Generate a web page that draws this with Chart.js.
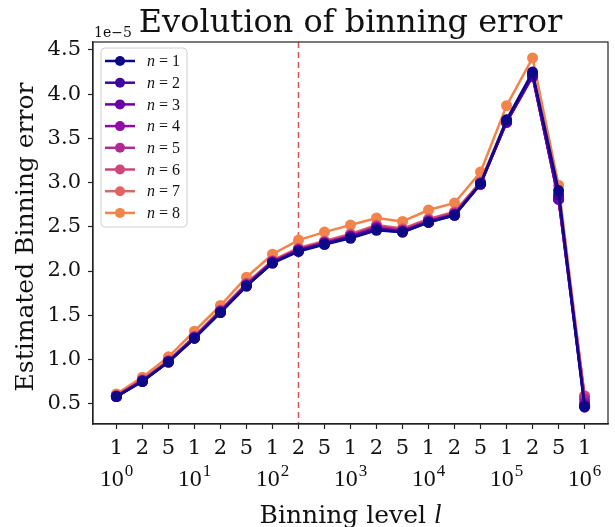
<!DOCTYPE html>
<html lang="en">
<head>
<meta charset="UTF-8">
<title>Evolution of binning error</title>
<script src="https://cdn.jsdelivr.net/npm/chart.js"></script>
<style>
  html, body { margin: 0; padding: 0; background: #fff; }
  #wrap { width: 615px; height: 527px; }
</style>
</head>
<body>
<div id="wrap"><canvas id="chart" width="615" height="527"></canvas></div>
<script>
// binning levels l = 1,2,5,10,20,...,1e6 -> mantissa label per position
const tickMantissa = ['1','2','5','1','2','5','1','2','5','1','2','5','1','2','5','1','2','5','1'];
const decadeTicks = [0, 3, 6, 9, 12, 15, 18];
const decadeExp = ['0', '1', '2', '3', '4', '5', '6'];
const yTicks = [0.5, 1.0, 1.5, 2.0, 2.5, 3.0, 3.5, 4.0, 4.5];
const cutIndex = 7; // dashed line at l = 200

// estimated binning error, in units of 1e-5
const nLabels = ['1', '2', '3', '4', '5', '6', '7', '8'];
const err1 = [0.58, 0.75, 0.97, 1.24, 1.53, 1.83, 2.09, 2.22, 2.30, 2.37, 2.46, 2.44, 2.55, 2.63, 2.99, 3.71, 4.25, 2.91, 0.47];
const err2 = [0.58, 0.75, 0.97, 1.24, 1.53, 1.83, 2.09, 2.23, 2.31, 2.38, 2.47, 2.44, 2.55, 2.63, 2.98, 3.69, 4.22, 2.86, 0.46];
const err3 = [0.58, 0.76, 0.97, 1.24, 1.54, 1.84, 2.10, 2.23, 2.31, 2.39, 2.48, 2.45, 2.56, 2.64, 2.98, 3.68, 4.20, 2.82, 0.48];
const err4 = [0.58, 0.76, 0.98, 1.25, 1.54, 1.84, 2.10, 2.24, 2.32, 2.39, 2.49, 2.45, 2.56, 2.64, 2.99, 3.68, 4.20, 2.81, 0.51];
const err5 = [0.59, 0.76, 0.98, 1.25, 1.55, 1.85, 2.11, 2.24, 2.32, 2.40, 2.50, 2.46, 2.57, 2.65, 2.99, 3.69, 4.21, 2.81, 0.55];
const err6 = [0.59, 0.77, 0.98, 1.26, 1.55, 1.86, 2.11, 2.25, 2.33, 2.41, 2.51, 2.47, 2.58, 2.66, 3.00, 3.70, 4.22, 2.82, 0.58];
const err7 = [0.59, 0.77, 0.99, 1.26, 1.56, 1.86, 2.12, 2.26, 2.34, 2.42, 2.52, 2.48, 2.59, 2.67, 3.01, 3.71, 4.23, 2.84, 0.59];
const err8 = [0.61, 0.80, 1.03, 1.32, 1.61, 1.93, 2.19, 2.35, 2.44, 2.52, 2.60, 2.56, 2.69, 2.77, 3.12, 3.87, 4.41, 2.97, 0.58];
const allErr = [err1, err2, err3, err4, err5, err6, err7, err8];

// plasma colormap samples
const colors = ['#0d0887', '#41049d', '#6a00a8', '#8f0da4', '#b12a90', '#cc4778', '#e16462', '#f2844b'];

const SERIF = '"DejaVu Serif", serif';
const MATH = '"Liberation Serif", serif';

const datasets = allErr.map((vals, k) => ({
    label: 'n = ' + nLabels[k],
    data: vals.map((v, i) => ({ x: i, y: v })),
    borderColor: colors[k],
    backgroundColor: colors[k],
    borderWidth: 2.5,
    pointRadius: 5.5,
    pointBorderWidth: 0,
    pointBackgroundColor: colors[k],
    tension: 0
}));

const decor = {
    id: 'decor',
    beforeDatasetsDraw(chart) {
        const ctx = chart.ctx, a = chart.chartArea;
        const x = chart.scales.x.getPixelForValue(cutIndex);
        ctx.save();
        ctx.strokeStyle = 'rgba(214,39,40,0.8)';
        ctx.lineWidth = 1.5;
        ctx.setLineDash([6, 4]);
        ctx.beginPath();
        ctx.moveTo(x, a.top);
        ctx.lineTo(x, a.bottom);
        ctx.stroke();
        ctx.restore();
    },
    afterDraw(chart) {
        const ctx = chart.ctx, a = chart.chartArea;
        const xs = chart.scales.x;
        ctx.save();
        // frame
        ctx.strokeStyle = '#222';
        ctx.lineWidth = 1.2;
        ctx.setLineDash([]);
        ctx.strokeRect(a.left, a.top, a.right - a.left, a.bottom - a.top);

        // title
        ctx.fillStyle = '#111';
        ctx.textAlign = 'center';
        ctx.textBaseline = 'alphabetic';
        ctx.font = '32px ' + SERIF;
        ctx.fillText('Evolution of binning error', (a.left + a.right) / 2, 32);

        // offset text
        ctx.textAlign = 'left';
        ctx.font = '14px ' + SERIF;
        ctx.fillText('1e\u22125', a.left + 1, 37);

        // decade labels
        decadeTicks.forEach((t, k) => {
            const px = xs.getPixelForValue(t);
            ctx.font = '24px ' + MATH;
            const w1 = ctx.measureText('10').width;
            ctx.font = '17px ' + MATH;
            const w2 = ctx.measureText(decadeExp[k]).width;
            const x0 = px - (w1 + w2 + 1) / 2;
            ctx.textAlign = 'left';
            ctx.font = '24px ' + MATH;
            ctx.fillText('10', x0, 486);
            ctx.font = '17px ' + MATH;
            ctx.fillText(decadeExp[k], x0 + w1 + 1, 476);
        });

        // x title
        const t1 = 'Binning level ';
        ctx.font = '25px ' + SERIF;
        const wBin = ctx.measureText(t1).width;
        ctx.font = 'italic 27px ' + MATH;
        const wL = ctx.measureText('l').width;
        const xStart = (a.left + a.right) / 2 - (wBin + wL) / 2;
        ctx.font = '25px ' + SERIF;
        ctx.fillText(t1, xStart, 523);
        ctx.font = 'italic 27px ' + MATH;
        ctx.fillText('l', xStart + wBin, 523);

        // y title
        ctx.save();
        ctx.translate(33, (a.top + a.bottom) / 2 + 4);
        ctx.rotate(-Math.PI / 2);
        ctx.textAlign = 'center';
        ctx.font = '25px ' + SERIF;
        ctx.fillText('Estimated Binning error', 0, 0);
        ctx.restore();

        // legend
        const bx = 101, by = 48, bw = 86, bh = 179;
        ctx.fillStyle = 'rgba(255,255,255,0.85)';
        ctx.strokeStyle = '#d0d0d0';
        ctx.lineWidth = 1;
        ctx.beginPath();
        ctx.roundRect(bx, by, bw, bh, 4);
        ctx.fill();
        ctx.stroke();
        nLabels.forEach((n, k) => {
            const yy = 61 + k * 21.7;
            ctx.strokeStyle = colors[k];
            ctx.lineWidth = 2.5;
            ctx.beginPath();
            ctx.moveTo(105, yy);
            ctx.lineTo(135, yy);
            ctx.stroke();
            ctx.fillStyle = colors[k];
            ctx.beginPath();
            ctx.arc(120, yy, 5, 0, Math.PI * 2);
            ctx.fill();
            ctx.fillStyle = '#111';
            ctx.textAlign = 'left';
            ctx.textBaseline = 'middle';
            ctx.font = 'italic 16px ' + MATH;
            ctx.fillText('n', 147, yy + 1);
            const wn = ctx.measureText('n').width;
            ctx.font = '16px ' + MATH;
            ctx.fillText(' = ' + n, 147 + wn, yy + 1);
        });
        ctx.restore();
    }
};

new Chart(document.getElementById('chart'), {
    type: 'line',
    data: { datasets: datasets },
    options: {
        responsive: false,
        animation: false,
        devicePixelRatio: 1,
        layout: { padding: { top: 42, right: 7, left: 0, bottom: 0 } },
        plugins: {
            legend: { display: false },
            title: { display: false },
            tooltip: { enabled: false }
        },
        scales: {
            x: {
                type: 'linear',
                min: -0.9,
                max: 18.9,
                afterBuildTicks: s => { s.ticks = tickMantissa.map((m, i) => ({ value: i })); },
                afterFit: s => { s.height = 103; },
                grid: { drawOnChartArea: false, tickLength: 5, color: '#222', tickWidth: 1.2 },
                border: { display: true, color: '#222', width: 1.2 },
                ticks: {
                    autoSkip: false,
                    maxRotation: 0,
                    padding: 7,
                    color: '#111',
                    font: { family: SERIF, size: 21 },
                    callback: v => tickMantissa[v]
                }
            },
            y: {
                type: 'linear',
                min: 0.27,
                max: 4.59,
                afterBuildTicks: s => { s.ticks = yTicks.map(v => ({ value: v })); },
                afterFit: s => { s.width = 93; },
                grid: { drawOnChartArea: false, tickLength: 5, color: '#222', tickWidth: 1.2 },
                border: { display: true, color: '#222', width: 1.2 },
                ticks: {
                    padding: 7,
                    color: '#111',
                    font: { family: SERIF, size: 21 },
                    callback: v => v.toFixed(1)
                }
            }
        }
    },
    plugins: [decor]
});
</script>
</body>
</html>
